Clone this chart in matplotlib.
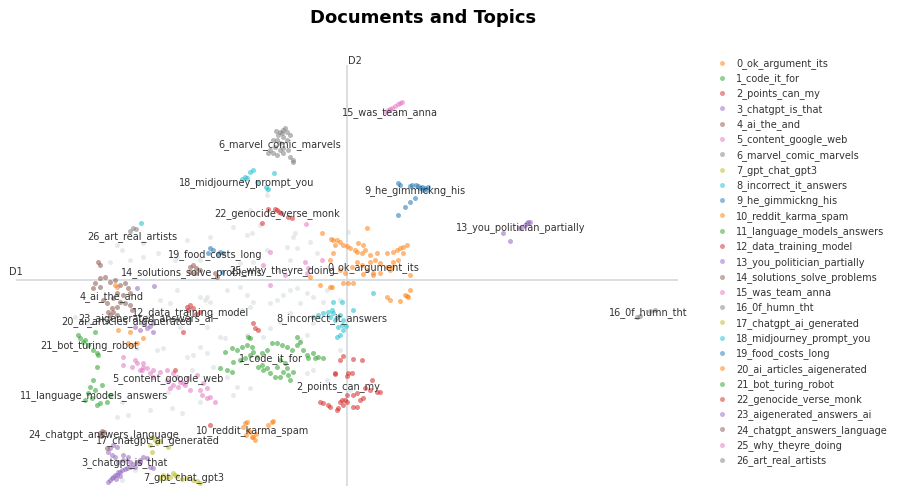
import matplotlib.pyplot as plt
from matplotlib.lines import Line2D

# topic names (legend order)
topic_names = [
    "0_ok_argument_its", "1_code_it_for", "2_points_can_my", "3_chatgpt_is_that",
    "4_ai_the_and", "5_content_google_web", "6_marvel_comic_marvels", "7_gpt_chat_gpt3",
    "8_incorrect_it_answers", "9_he_gimmickng_his", "10_reddit_karma_spam",
    "11_language_models_answers", "12_data_training_model", "13_you_politician_partially",
    "14_solutions_solve_problems", "15_was_team_anna", "16_0f_humn_tht",
    "17_chatgpt_ai_generated", "18_midjourney_prompt_you", "19_food_costs_long",
    "20_ai_articles_aigenerated", "21_bot_turing_robot", "22_genocide_verse_monk",
    "23_aigenerated_answers_ai", "24_chatgpt_answers_language", "25_why_theyre_doing",
    "26_art_real_artists",
]

# topic label positions (cluster centres, D1 / D2)
label_x = [2.6, -7.6, -0.9, -22.2, -23.5, -17.9, -6.7, -16.3, -1.5, 6.8, -9.4, -25.3, -15.6,
           17.4, -15.5, 4.3, 30.1, -18.9, -10.0, -13.2, -22.0, -25.8, -7.0, -20.1, -24.3,
           -6.5, -21.5]
label_y = [1.2, -7.9, -10.7, -18.3, -1.7, -9.9, 13.5, -19.8, -3.9, 8.9, -15.1, -11.6, -3.3,
           5.2, 0.7, 16.7, -3.3, -16.1, 9.7, 2.5, -4.2, -6.6, 6.6, -3.9, -15.5, 0.9, 4.3]

# document embeddings per topic (D1, D2)
pts_0 = [(-2.5, 4.7), (-1.6, 4.1), (-1.4, 4.0), (-1.0, 4.0), (-0.7, 3.8), (-1.2, 3.5), (-0.4, 3.5),
         (0.0, 3.4), (0.3, 3.2), (0.8, 3.0), (1.1, 3.7), (1.0, 2.8), (1.5, 2.7), (1.8, 3.0),
         (1.6, 3.5), (2.0, 5.2), (2.3, 2.5), (3.0, 2.7), (2.3, 1.8), (2.8, 2.0), (3.3, 1.7),
         (4.0, 2.7), (4.6, 2.8), (5.0, 3.0), (5.3, 3.2), (5.6, 3.3), (6.0, 3.5), (5.6, 2.7),
         (5.1, 2.0), (4.6, 1.8), (4.5, 1.3), (4.0, 1.3), (1.0, 1.8), (1.5, 1.5), (2.0, 1.0),
         (2.6, 0.7), (3.3, 0.7), (4.3, 1.0), (-0.7, 1.0), (-0.2, 0.7), (0.5, 1.3), (-1.4, 2.7),
         (-1.7, 2.0), (-0.4, -0.3), (0.1, -0.3), (0.6, -0.3), (1.6, 0.6), (2.6, 0.5), (4.0, -1.7),
         (4.3, -2.0), (5.3, -2.1), (5.8, -1.5), (6.0, -1.6), (6.1, -1.7), (6.3, -1.0), (6.3, 0.5),
         (-1.7, -0.7), (-2.7, -0.5), (-1.5, -0.7), (-3.7, 0.3)]
pts_1 = [(-12.7, -8.8), (-12.2, -7.2), (-11.5, -6.8), (-11.0, -7.0), (-10.5, -6.7), (-10.0, -6.5),
         (-9.5, -6.7), (-9.4, -7.2), (-9.7, -7.5), (-10.2, -7.8), (-9.0, -7.7), (-8.5, -7.3),
         (-8.0, -7.0), (-7.5, -6.3), (-7.0, -6.3), (-6.5, -6.5), (-6.0, -6.7), (-5.5, -7.0),
         (-5.0, -6.5), (-4.7, -6.2), (-4.4, -7.0), (-4.0, -7.5), (-3.4, -7.3), (-2.9, -7.7),
         (-2.4, -7.8), (-3.2, -7.8), (-6.7, -8.0), (-6.2, -8.3), (-6.0, -8.8), (-6.4, -9.2),
         (-6.7, -9.7), (-7.2, -9.7), (-7.7, -9.3), (-8.0, -8.8), (-8.5, -8.5), (-8.9, -8.7),
         (-8.4, -9.0), (-7.0, -8.7), (-5.9, -9.5), (-5.7, -10.0), (-5.4, -9.2), (-9.7, -5.8),
         (-10.7, -8.0), (-11.4, -8.2), (-9.9, -5.7), (-5.0, -5.7), (-3.9, -7.8), (-11.5, -9.2),
         (-12.0, -9.0)]
pts_2 = [(-0.7, -8.0), (-0.4, -7.6), (0.6, -7.9), (1.5, -8.0), (-1.2, -9.4), (0.0, -9.6),
         (0.1, -9.3), (0.5, -9.3), (2.5, -10.0), (3.3, -11.2), (3.0, -11.2), (2.3, -11.0),
         (1.8, -10.8), (1.0, -11.3), (0.6, -11.5), (0.0, -11.5), (-0.5, -12.0), (0.0, -12.2),
         (-0.4, -12.5), (-0.9, -12.8), (-1.0, -13.0), (0.6, -12.7), (1.0, -12.7), (1.3, -12.0),
         (1.6, -11.8), (-1.7, -12.7), (-2.7, -12.2), (-2.4, -12.3), (-1.9, -12.5), (-0.7, -12.2),
         (-1.2, -9.3), (-0.2, -12.0)]
pts_3 = [(-23.9, -20.2), (-23.7, -20.0), (-23.5, -19.8), (-23.4, -19.7), (-23.2, -19.5),
         (-23.0, -19.5), (-22.9, -19.2), (-22.7, -19.2), (-22.5, -19.0), (-22.2, -18.9),
         (-22.0, -18.8), (-21.7, -18.7), (-21.4, -18.4), (-21.0, -18.2), (-20.7, -18.0),
         (-20.4, -17.7), (-20.0, -17.8), (-23.7, -16.8), (-23.4, -16.5), (-23.0, -16.7),
         (-23.9, -17.2), (-23.2, -17.7), (-22.4, -18.0), (-21.7, -18.2), (-19.7, -18.7),
         (-19.4, -18.8), (-21.2, -18.7), (-22.4, -17.5), (-21.9, -17.7), (-20.7, -18.2),
         (-23.5, -17.5), (-22.9, -18.2), (-23.1, -19.9), (-22.7, -19.6)]
pts_4 = [(-25.2, -0.3), (-24.7, 0.2), (-24.2, 0.3), (-23.7, -0.2), (-23.2, 0.0), (-22.7, -0.5),
         (-22.2, -0.3), (-21.9, -0.8), (-21.7, -1.3), (-22.4, -1.5), (-23.0, -1.3), (-23.4, -1.8),
         (-22.7, -2.2), (-22.2, -2.3), (-21.7, -2.5), (-23.0, -2.7), (-23.5, -2.8), (-23.9, -3.2),
         (-23.4, -3.2), (-23.0, -3.5), (-23.7, -3.5), (-24.0, -2.3), (-24.4, -2.0), (-24.7, -0.7),
         (-25.4, -0.8), (-21.5, -3.0), (-24.9, 1.8), (-24.7, 1.5)]
pts_5 = [(-22.4, -7.7), (-21.2, -8.0), (-20.4, -8.3), (-20.0, -8.8), (-20.5, -9.0), (-19.7, -9.3),
         (-19.4, -9.7), (-18.7, -9.2), (-18.0, -10.0), (-17.4, -10.5), (-16.9, -10.7),
         (-16.4, -10.3), (-15.9, -9.8), (-15.0, -9.5), (-14.4, -10.3), (-14.0, -10.8),
         (-14.5, -11.5), (-22.4, -8.5), (-21.5, -8.7), (-21.0, -8.3), (-20.4, -8.7), (-20.7, -9.0),
         (-19.4, -9.0), (-17.4, -9.3), (-17.0, -9.7), (-16.7, -10.2), (-16.2, -10.5),
         (-14.7, -11.0), (-14.0, -11.8), (-13.7, -11.7), (-18.0, -9.0), (-17.7, -10.8),
         (-15.7, -11.0), (-13.2, -12.2)]
pts_6 = [(-6.7, 14.8), (-6.4, 15.0), (-6.0, 14.8), (-6.9, 14.5), (-6.4, 14.3), (-7.0, 14.0),
         (-6.7, 13.7), (-7.2, 13.3), (-6.7, 13.0), (-6.4, 13.2), (-5.9, 13.0), (-7.4, 12.7),
         (-7.9, 12.7), (-7.0, 12.5), (-5.7, 12.3), (-5.4, 12.0), (-5.4, 11.8), (-6.0, 14.0),
         (-6.5, 14.7), (-7.4, 14.0), (-7.7, 13.0), (-6.4, 12.7), (-6.2, 15.2), (-7.1, 14.9),
         (-5.7, 14.5)]
pts_7 = [(-18.4, -19.5), (-18.1, -19.8), (-17.4, -19.3), (-17.2, -19.5), (-17.0, -19.6),
         (-16.5, -19.9), (-16.0, -19.8), (-15.4, -20.0), (-15.0, -20.1), (-14.7, -20.3),
         (-17.7, -19.7), (-18.7, -19.8)]
pts_8 = [(-3.4, -3.7), (-2.9, -3.5), (-2.4, -3.3), (-1.9, -3.2), (-1.5, -3.0), (-1.4, -3.3),
         (-1.0, -3.7), (-0.7, -3.5), (-0.4, -4.0), (-0.5, -4.5), (-0.9, -4.7), (-0.4, -5.0),
         (-0.7, -5.5), (-1.0, -5.7), (-0.5, -2.2), (-1.4, -2.2), (2.6, -1.3), (0.6, -3.0),
         (-1.7, -3.7), (-0.1, -4.6), (-1.2, -4.0)]
pts_9 = [(5.1, 9.7), (5.3, 9.5), (6.3, 9.4), (6.5, 9.5), (7.1, 9.4), (7.5, 9.3), (7.8, 9.2),
         (8.0, 9.0), (7.6, 9.0), (7.3, 9.2), (6.8, 8.2), (6.3, 7.8), (5.8, 7.3), (5.1, 6.5),
         (6.9, 9.5), (8.1, 9.3)]
pts_10 = [(-10.4, -14.7), (-10.2, -14.3), (-10.0, -14.2), (-9.9, -15.0), (-9.7, -15.2),
          (-9.4, -15.7), (-9.2, -16.0), (-9.5, -15.7), (-7.9, -14.5), (-7.5, -14.2),
          (-7.4, -14.1), (-10.1, -15.5), (-9.1, -15.4)]
pts_11 = [(-25.0, -8.7), (-25.4, -10.0), (-25.7, -10.7), (-25.9, -11.3), (-25.5, -11.8),
          (-24.7, -12.3), (-24.0, -12.2), (-25.0, -12.5), (-25.2, -11.0), (-24.5, -10.5),
          (-26.2, -12.0), (-23.7, -11.5)]
pts_12 = [(-16.0, -2.7), (-15.7, -2.5), (-15.4, -2.8), (-14.7, -3.2), (-15.9, -3.0), (-16.4, -5.2),
          (-17.2, -9.0), (-9.2, -4.8), (-8.9, -5.0), (-13.7, -14.5), (-9.4, -4.3), (-15.1, -3.4)]
pts_13 = [(15.6, 4.7), (16.3, 3.9), (17.2, 5.2), (17.5, 5.3), (17.8, 5.5), (18.0, 5.7),
          (18.1, 5.8), (18.3, 5.8)]
pts_14 = [(-15.7, 1.3), (-15.4, 1.5), (-15.1, 1.2), (-15.7, 0.8), (-15.2, 0.7), (-13.2, 0.7),
          (-13.0, 0.3), (-14.7, 1.0)]
pts_15 = [(3.9, 16.8), (4.1, 17.0), (4.3, 17.1), (4.5, 17.2), (4.8, 17.4), (5.1, 17.6),
          (5.3, 17.7), (5.5, 17.8)]
pts_16 = [(29.0, -3.7), (29.3, -3.6), (30.3, -3.1), (30.8, -3.0)]
pts_17 = [(-19.5, -15.7), (-19.2, -16.0), (-19.0, -16.3), (-18.7, -16.1), (-19.5, -17.2),
          (-17.9, -16.7), (-19.7, -16.5)]
pts_18 = [(-9.4, 11.0), (-9.7, 10.8), (-10.2, 10.3), (-10.0, 10.2), (-10.5, 10.1), (-7.3, 10.7),
          (-9.0, 9.8), (-8.1, 9.3), (-7.9, 9.1), (-20.6, 5.7)]
pts_19 = [(-13.9, 2.7), (-13.7, 3.2), (-13.4, 3.0), (-12.9, 2.6), (-12.7, 2.8), (-12.4, 2.7),
          (-12.5, 0.8)]
pts_20 = [(-23.2, -0.5), (-23.0, -0.7), (-21.7, -5.2), (-21.9, -6.3), (-21.5, -6.5), (-21.0, -6.3),
          (-20.4, -5.8), (-22.9, -5.0)]
pts_21 = [(-26.9, -5.5), (-26.4, -6.2), (-26.2, -6.0), (-25.9, -6.5), (-25.4, -7.0), (-25.0, -7.3),
          (-25.2, -5.2), (-26.7, -5.8), (-24.9, -7.5)]
pts_22 = [(-7.9, 7.1), (-7.2, 7.1), (-7.0, 7.0), (-6.8, 6.8), (-6.6, 6.7), (-5.9, 6.3),
          (-5.5, 6.2), (-8.5, 5.7)]
pts_23 = [(-21.0, -0.8), (-19.3, -0.6), (-20.4, -4.3), (-20.0, -4.8), (-19.7, -4.6), (-19.4, -4.3),
          (-21.2, -4.7), (-20.7, -5.0), (-19.4, -5.2)]
pts_24 = [(-24.7, -15.3), (-24.5, -15.1), (-24.3, -15.2), (-24.6, -15.6), (-24.0, -16.8)]
pts_25 = [(-4.1, 5.6), (-7.7, 2.8), (-8.4, 1.5), (-4.2, 1.8), (-2.5, 2.0), (-3.9, 1.2),
          (-7.7, -0.5), (-6.2, 0.5), (-4.0, 0.7)]
pts_26 = [(-21.4, 5.2), (-21.7, 4.9), (-21.1, 5.1)]

topic_points = [pts_0, pts_1, pts_2, pts_3, pts_4, pts_5, pts_6, pts_7, pts_8, pts_9, pts_10,
                pts_11, pts_12, pts_13, pts_14, pts_15, pts_16, pts_17, pts_18, pts_19, pts_20,
                pts_21, pts_22, pts_23, pts_24, pts_25, pts_26]

# documents without a topic (-1)
outliers = [(-9.7, 7.0), (-10.7, 6.8), (-9.5, 4.7), (-5.2, 4.7), (-3.7, 3.8), (-5.0, 3.2),
            (-6.0, 3.3), (-8.0, 3.0), (-9.4, 1.8), (-10.7, 1.7), (-11.4, 1.0), (-14.7, 2.0),
            (-17.0, 2.3), (-21.7, 2.0), (-23.0, 3.5), (-20.4, 3.7), (-16.0, 4.0), (-8.0, 8.5),
            (-8.0, 9.0), (-22.5, 3.0), (-23.7, 1.8), (-7.0, 1.0), (-5.7, 2.0), (-3.0, 2.7),
            (-14.0, -1.7), (-14.2, -2.0), (-13.7, -2.2), (-12.0, -1.0), (-10.7, -0.7),
            (-10.0, -1.5), (-9.4, -2.2), (-10.5, -3.0), (-11.5, -3.3), (-12.7, -5.7),
            (-14.0, -4.7), (-12.2, -5.8), (-9.7, -2.7), (-7.7, -2.3), (-7.0, -2.0), (-6.4, -1.5),
            (-5.7, -1.0), (-5.0, -0.8), (-4.0, -1.3), (-3.4, -1.7), (-2.0, -1.0), (-2.4, -2.2),
            (-4.7, -2.3), (-5.7, -3.3), (-6.7, -4.2), (-7.7, -4.8), (-8.4, -5.7), (-10.0, -5.5),
            (-4.0, -5.5), (-4.7, -6.0), (-3.4, -9.0), (-4.0, -9.3), (-2.0, -10.0), (-9.7, -10.8),
            (-11.0, -10.7), (-12.0, -9.7), (-13.4, -8.7), (-14.0, -7.3), (-3.4, -4.3),
            (-16.5, -13.3), (-17.5, -12.8), (-22.5, -12.2), (-21.9, -13.5), (-19.7, -13.0),
            (-18.7, -11.7), (-14.7, -12.2), (-11.4, -11.5), (-23.0, -13.7), (-22.5, -20.0),
            (-21.2, -19.0), (-26.0, -4.3), (-27.2, -3.7), (-21.0, -6.8), (-19.0, -7.0),
            (-18.7, -2.0), (-17.7, -2.3), (-17.0, -1.0), (-16.7, -4.7), (-15.7, -4.0),
            (-14.7, -1.7), (-20.0, -3.7), (-18.4, -6.8), (-16.0, -7.7), (-15.4, -7.5),
            (-14.7, -6.7), (-15.5, -9.0), (-17.9, -11.2), (-20.4, 2.3), (-18.9, 2.7),
            (-17.2, 2.0), (-13.7, 4.3), (-11.4, 5.3), (-10.0, 4.5), (-8.7, 5.5), (-5.4, 4.3),
            (0.1, 4.8), (-0.7, -2.0), (-0.7, -7.0), (-1.1, -3.8), (0.3, -11.0), (-20.7, -16.0)]

x_range = (-33.1, 33.1)
y_range = (-21.5, 21.5)

palette = ["#1f77b4", "#ff7f0e", "#2ca02c", "#d62728", "#9467bd",
           "#8c564b", "#e377c2", "#7f7f7f", "#bcbd22", "#17becf"]
colors = [palette[(i + 1) % 10] for i in range(len(topic_names))]

fig = plt.figure(figsize=(8.98, 4.86), dpi=100)
ax = fig.add_axes([16 / 898, -9 / 486, 662 / 898, 430 / 486])
ax.set_xlim(*x_range)
ax.set_ylim(*y_range)
ax.axis("off")

# centre lines
ax.plot(x_range, [0, 0], color="#D6DCDF", lw=1.3, zorder=1)
ax.plot([0, 0], y_range, color="#D6DCDF", lw=1.3, zorder=1)
ax.annotate("D1", (x_range[0], 0), xytext=(0, 8), textcoords="offset pixels",
            ha="center", va="center", fontsize=7, color="#333333")
ax.annotate("D2", (0, y_range[1]), xytext=(8, 4), textcoords="offset pixels",
            ha="center", va="center", fontsize=7, color="#333333")

ox = [p[0] for p in outliers]
oy = [p[1] for p in outliers]
ax.scatter(ox, oy, s=13, color="#CFD8DC", alpha=0.5, linewidths=0, zorder=2)

handles = []
for i, pts in enumerate(topic_points):
    xs = [p[0] for p in pts]
    ys = [p[1] for p in pts]
    ax.scatter(xs, ys, s=13, color=colors[i], alpha=0.55, linewidths=0, zorder=3)
    handles.append(Line2D([], [], marker="o", ls="", color=colors[i], alpha=0.5,
                          markersize=3.6, markeredgewidth=0))

for name, lx, ly in zip(topic_names, label_x, label_y):
    ax.text(lx, ly, name, ha="center", va="center", fontsize=7, color="#333333", zorder=5)

fig.text(423 / 898, 1 - 18 / 486, "Documents and Topics", ha="center", va="center",
         fontsize=13, fontweight="bold", color="black")

leg = fig.legend(handles, topic_names, loc="upper left",
                 bbox_to_anchor=(717 / 898, 1 - 58 / 486),
                 frameon=False, fontsize=7, handlelength=1.0, handletextpad=1.0,
                 labelspacing=0.45, borderpad=0, borderaxespad=0)
for t in leg.get_texts():
    t.set_color("#333333")

fig.savefig("out.png", dpi=100)
